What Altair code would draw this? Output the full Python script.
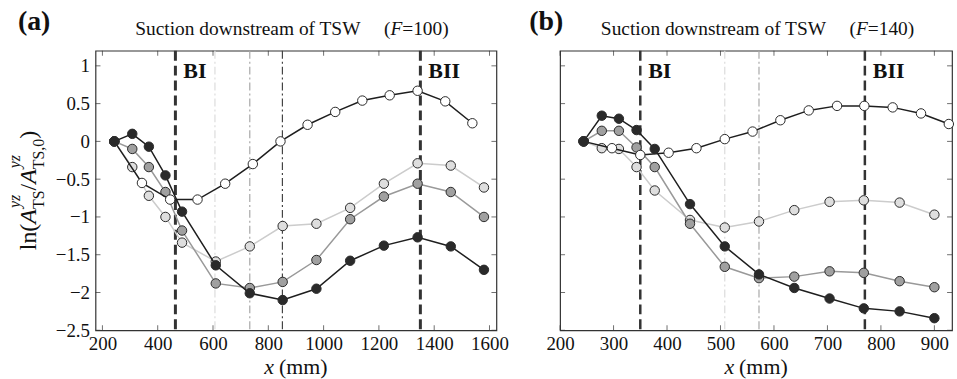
import altair as alt
import pandas as pd

# ---------------- data ----------------
# panel (a)  F = 100
a_x = [243, 308, 368, 428, 488, 610, 733, 852, 974, 1096, 1218, 1340, 1460, 1580]
a_black = [0.0, 0.10, -0.07, -0.45, -0.93, -1.64, -2.01, -2.10, -1.95, -1.58, -1.38, -1.27, -1.39, -1.70]
a_dgray = [0.0, -0.10, -0.34, -0.67, -1.18, -1.88, -1.94, -1.86, -1.57, -1.03, -0.73, -0.56, -0.67, -1.00]
a_lgray = [0.0, -0.34, -0.72, -1.00, -1.34, -1.59, -1.39, -1.12, -1.09, -0.88, -0.56, -0.29, -0.32, -0.61]
a_x_open = [243, 343, 445, 544, 644, 744, 844, 942, 1042, 1140, 1239, 1340, 1440, 1538]
a_open = [0.0, -0.55, -0.77, -0.77, -0.56, -0.30, 0.0, 0.22, 0.39, 0.54, 0.61, 0.67, 0.53, 0.24]
a_branch = [464, 1350]
a_dashdot = [607, 733, 851]
a_xticks = [200, 400, 600, 800, 1000, 1200, 1400, 1600]

# panel (b)  F = 140
b_x = [244, 278, 310, 343, 377, 443, 508, 572, 638, 704, 768, 835, 900]
b_black = [0.0, 0.34, 0.30, 0.15, -0.10, -0.83, -1.39, -1.76, -1.94, -2.08, -2.21, -2.25, -2.34]
b_dgray = [0.0, 0.14, 0.14, -0.08, -0.34, -1.09, -1.66, -1.81, -1.79, -1.72, -1.74, -1.85, -1.93]
b_lgray = [0.0, -0.09, -0.10, -0.34, -0.65, -1.04, -1.14, -1.06, -0.91, -0.80, -0.78, -0.81, -0.97]
b_x_open = [244, 297, 350, 403, 455, 508, 560, 612, 665, 718, 769, 822, 875, 927]
b_open = [0.0, -0.09, -0.18, -0.15, -0.09, 0.03, 0.13, 0.28, 0.41, 0.47, 0.47, 0.45, 0.37, 0.23]
b_branch = [350, 770]
b_dashdot = [508, 572]
b_xticks = [200, 300, 400, 500, 600, 700, 800, 900]

branch_labels = ["BI", "BII"]
y_ticks = [-2.5, -2, -1.5, -1, -0.5, 0, 0.5, 1]

# ---------------- styles ----------------
FONT = "Liberation Serif"
H = 281
Y_DOM = [-2.5, 1.2]
STYLE = {  # series: (line colour, fill colour)
    "lgray": ("#cccccc", "#dedede"),
    "dgray": ("#999999", "#a0a0a0"),
    "open": ("#1e1e1e", "#ffffff"),
    "black": ("#1e1e1e", "#2a2a2a"),
}
DASHDOT_COLS = ["#dcdcdc", "#a8a8a8", "#444444"]

TR = {'a': .444, 'b': .5, 'c': .444, 'd': .5, 'e': .444, 'f': .333, 'g': .5, 'h': .5, 'i': .278,
      'l': .278, 'm': .778, 'n': .5, 'o': .5, 'p': .5, 'r': .333, 's': .389, 't': .278, 'u': .5,
      'w': .722, 'x': .5, 'y': .5, 'z': .444, ' ': .25, '(': .333, ')': .333, '/': .278, ',': .25,
      '=': .564, 'T': .611, 'S': .556, 'W': .944, 'B': .667, 'I': .333,
      '0': .5, '1': .5, '2': .5, '3': .5, '4': .5, '5': .5, '6': .5, '7': .5, '8': .5, '9': .5}
TI = {'A': .611, 'y': .444, 'z': .389, 'x': .444, 'F': .611}


def tw(s, size, italic=False):
    tab = TI if italic else TR
    return sum(tab.get(c, .5) for c in s) * size


one = pd.DataFrame({"k": [0]})


def txt(x, y, s, size=19, weight="normal", style="normal", align="left", angle=0):
    return alt.Chart(one).mark_text(
        text=s, font=FONT, fontSize=size, fontWeight=weight, fontStyle=style,
        align=align, baseline="alphabetic", angle=angle, color="#111111"
    ).encode(x=alt.value(x), y=alt.value(y))


def panel(W, xdom, xs, blk, dg, lg, xo, op, branch, dashdot, xticks, tag, tag_dx, fnum,
          title_dx, show_y):
    xsc = alt.Scale(domain=xdom, nice=False, zero=False)
    ysc = alt.Scale(domain=Y_DOM, nice=False, zero=False)
    xax = alt.Axis(values=xticks, format="d", ticks=False, tickSize=0, domain=False, grid=False,
                   labelFont=FONT, labelFontSize=19, labelColor="#111111", labelPadding=4,
                   labelOverlap=False, labelFlush=False, labelBound=False, title=None)
    if show_y:
        yax = alt.Axis(values=y_ticks, format="~g", ticks=False, tickSize=0, domain=False,
                       grid=False, labelFont=FONT, labelFontSize=19, labelColor="#111111",
                       labelPadding=6, labelOverlap=False, labelFlush=False, labelBound=False,
                       title=None)
    else:
        yax = None
    X = alt.X("x:Q", scale=xsc, axis=xax)
    Y = alt.Y("y:Q", scale=ysc, axis=yax)

    layers = []
    # vertical reference lines
    dd = pd.DataFrame({"x": dashdot, "c": DASHDOT_COLS[:len(dashdot)]})
    layers.append(alt.Chart(dd).mark_rule(strokeWidth=1.2, strokeDash=[8, 3, 2, 3]).encode(
        x=X, y=alt.value(0), y2=alt.value(H), color=alt.Color("c:N", scale=None)))
    bd = pd.DataFrame({"x": branch, "label": branch_labels})
    layers.append(alt.Chart(bd).mark_rule(color="#333333", strokeWidth=3 if show_y else 2.5,
                                          strokeDash=[10, 5]).encode(
        x=X, y=alt.value(0), y2=alt.value(H)))
    layers.append(alt.Chart(bd).mark_text(align="left", dx=8, baseline="alphabetic", font=FONT,
                                          fontSize=22, fontWeight="bold", color="#111111").encode(
        x=X, y=alt.value(27), text="label:N"))

    # series
    for name, xv, yv in [("lgray", xs, lg), ("dgray", xs, dg), ("open", xo, op), ("black", xs, blk)]:
        df = pd.DataFrame({"x": xv, "y": yv})
        lc, fc = STYLE[name]
        layers.append(alt.Chart(df).mark_line(color=lc, strokeWidth=1.5).encode(x=X, y=Y))
        layers.append(alt.Chart(df).mark_point(shape="circle", filled=True, fill=fc, stroke="#2a2a2a",
                                               strokeWidth=1, size=90, opacity=1).encode(x=X, y=Y))

    # inward tick marks (box style)
    xt = pd.DataFrame({"x": xticks})
    yt = pd.DataFrame({"y": y_ticks})
    tk = dict(color="#333333", thickness=1, size=5)
    layers.append(alt.Chart(xt).mark_tick(orient="vertical", yOffset=-2.5, **tk).encode(x=X, y=alt.value(H)))
    layers.append(alt.Chart(xt).mark_tick(orient="vertical", yOffset=2.5, **tk).encode(x=X, y=alt.value(0)))
    layers.append(alt.Chart(yt).mark_tick(orient="horizontal", xOffset=2.5, **tk).encode(y=Y, x=alt.value(0)))
    layers.append(alt.Chart(yt).mark_tick(orient="horizontal", xOffset=-2.5, **tk).encode(y=Y, x=alt.value(W)))

    # panel tag and title
    layers.append(txt(tag_dx, -21, tag, size=28, weight="bold"))
    main = "Suction downstream of TSW"
    t0 = title_dx
    layers.append(txt(t0, -16, main, size=19.5))
    p = t0 + tw(main, 19.5) + 23
    layers.append(txt(p, -16, "(", size=19.5))
    p += tw("(", 19.5)
    layers.append(txt(p, -16, "F", size=19.5, style="italic"))
    p += tw("F", 19.5, True)
    layers.append(txt(p, -16, "=" + fnum + ")", size=19.5))

    # x-axis title:  x (mm)
    xsz = 22
    gap = 5
    tot = tw("x", xsz, True) + gap + tw("(mm)", xsz)
    xs0 = W / 2 - tot / 2
    layers.append(txt(xs0, 325, "x", size=xsz, style="italic"))
    layers.append(txt(xs0 + tw("x", xsz, True) + gap, 325, "(mm)", size=xsz))

    if show_y:
        # y-axis title  ln(A^yz_TS / A^yz_TS,0), rotated
        pieces = [("ln(", False), ("A", True), (("yz", "TS"),), ("/", False), ("A", True),
                  (("yz", "TS,0"),), (")", False)]
        pos = H / 2 + 60
        bx, supx, subx = -60, -76, -52
        for pc in pieces:
            if len(pc) == 1:
                sup, sub = pc[0]
                layers.append(txt(supx, pos - 1, sup, size=16, style="italic", angle=270))
                layers.append(txt(subx, pos, sub, size=16, angle=270))
                pos -= max(tw(sup, 16, True), tw(sub, 16))
            else:
                s, it = pc
                layers.append(txt(bx, pos, s, size=24, style="italic" if it else "normal", angle=270))
                pos -= tw(s, 24, it)
        # invisible anchor fixing the page origin
        layers.append(alt.Chart(one).mark_rect(opacity=0).encode(
            x=alt.value(-95), x2=alt.value(-94), y=alt.value(-49), y2=alt.value(-48)))

    return alt.layer(*layers).properties(width=W, height=H)


left = panel(403, [175, 1625], a_x, a_black, a_dgray, a_lgray, a_x_open, a_open,
             a_branch, a_dashdot, a_xticks, "(a)", -78, "100", 40, True)
right = panel(394, [200, 933], b_x, b_black, b_dgray, b_lgray, b_x_open, b_open,
              b_branch, b_dashdot, b_xticks, "(b)", -31, "140", 41, False)

chart = alt.hconcat(left, right, spacing=64, bounds="flush").properties(
    padding=0, autosize=alt.AutoSizeParams(type="pad")
).configure_view(stroke="#333333", strokeWidth=1.2)

chart.save("out.html", embed_options={"renderer": "svg", "actions": False})
